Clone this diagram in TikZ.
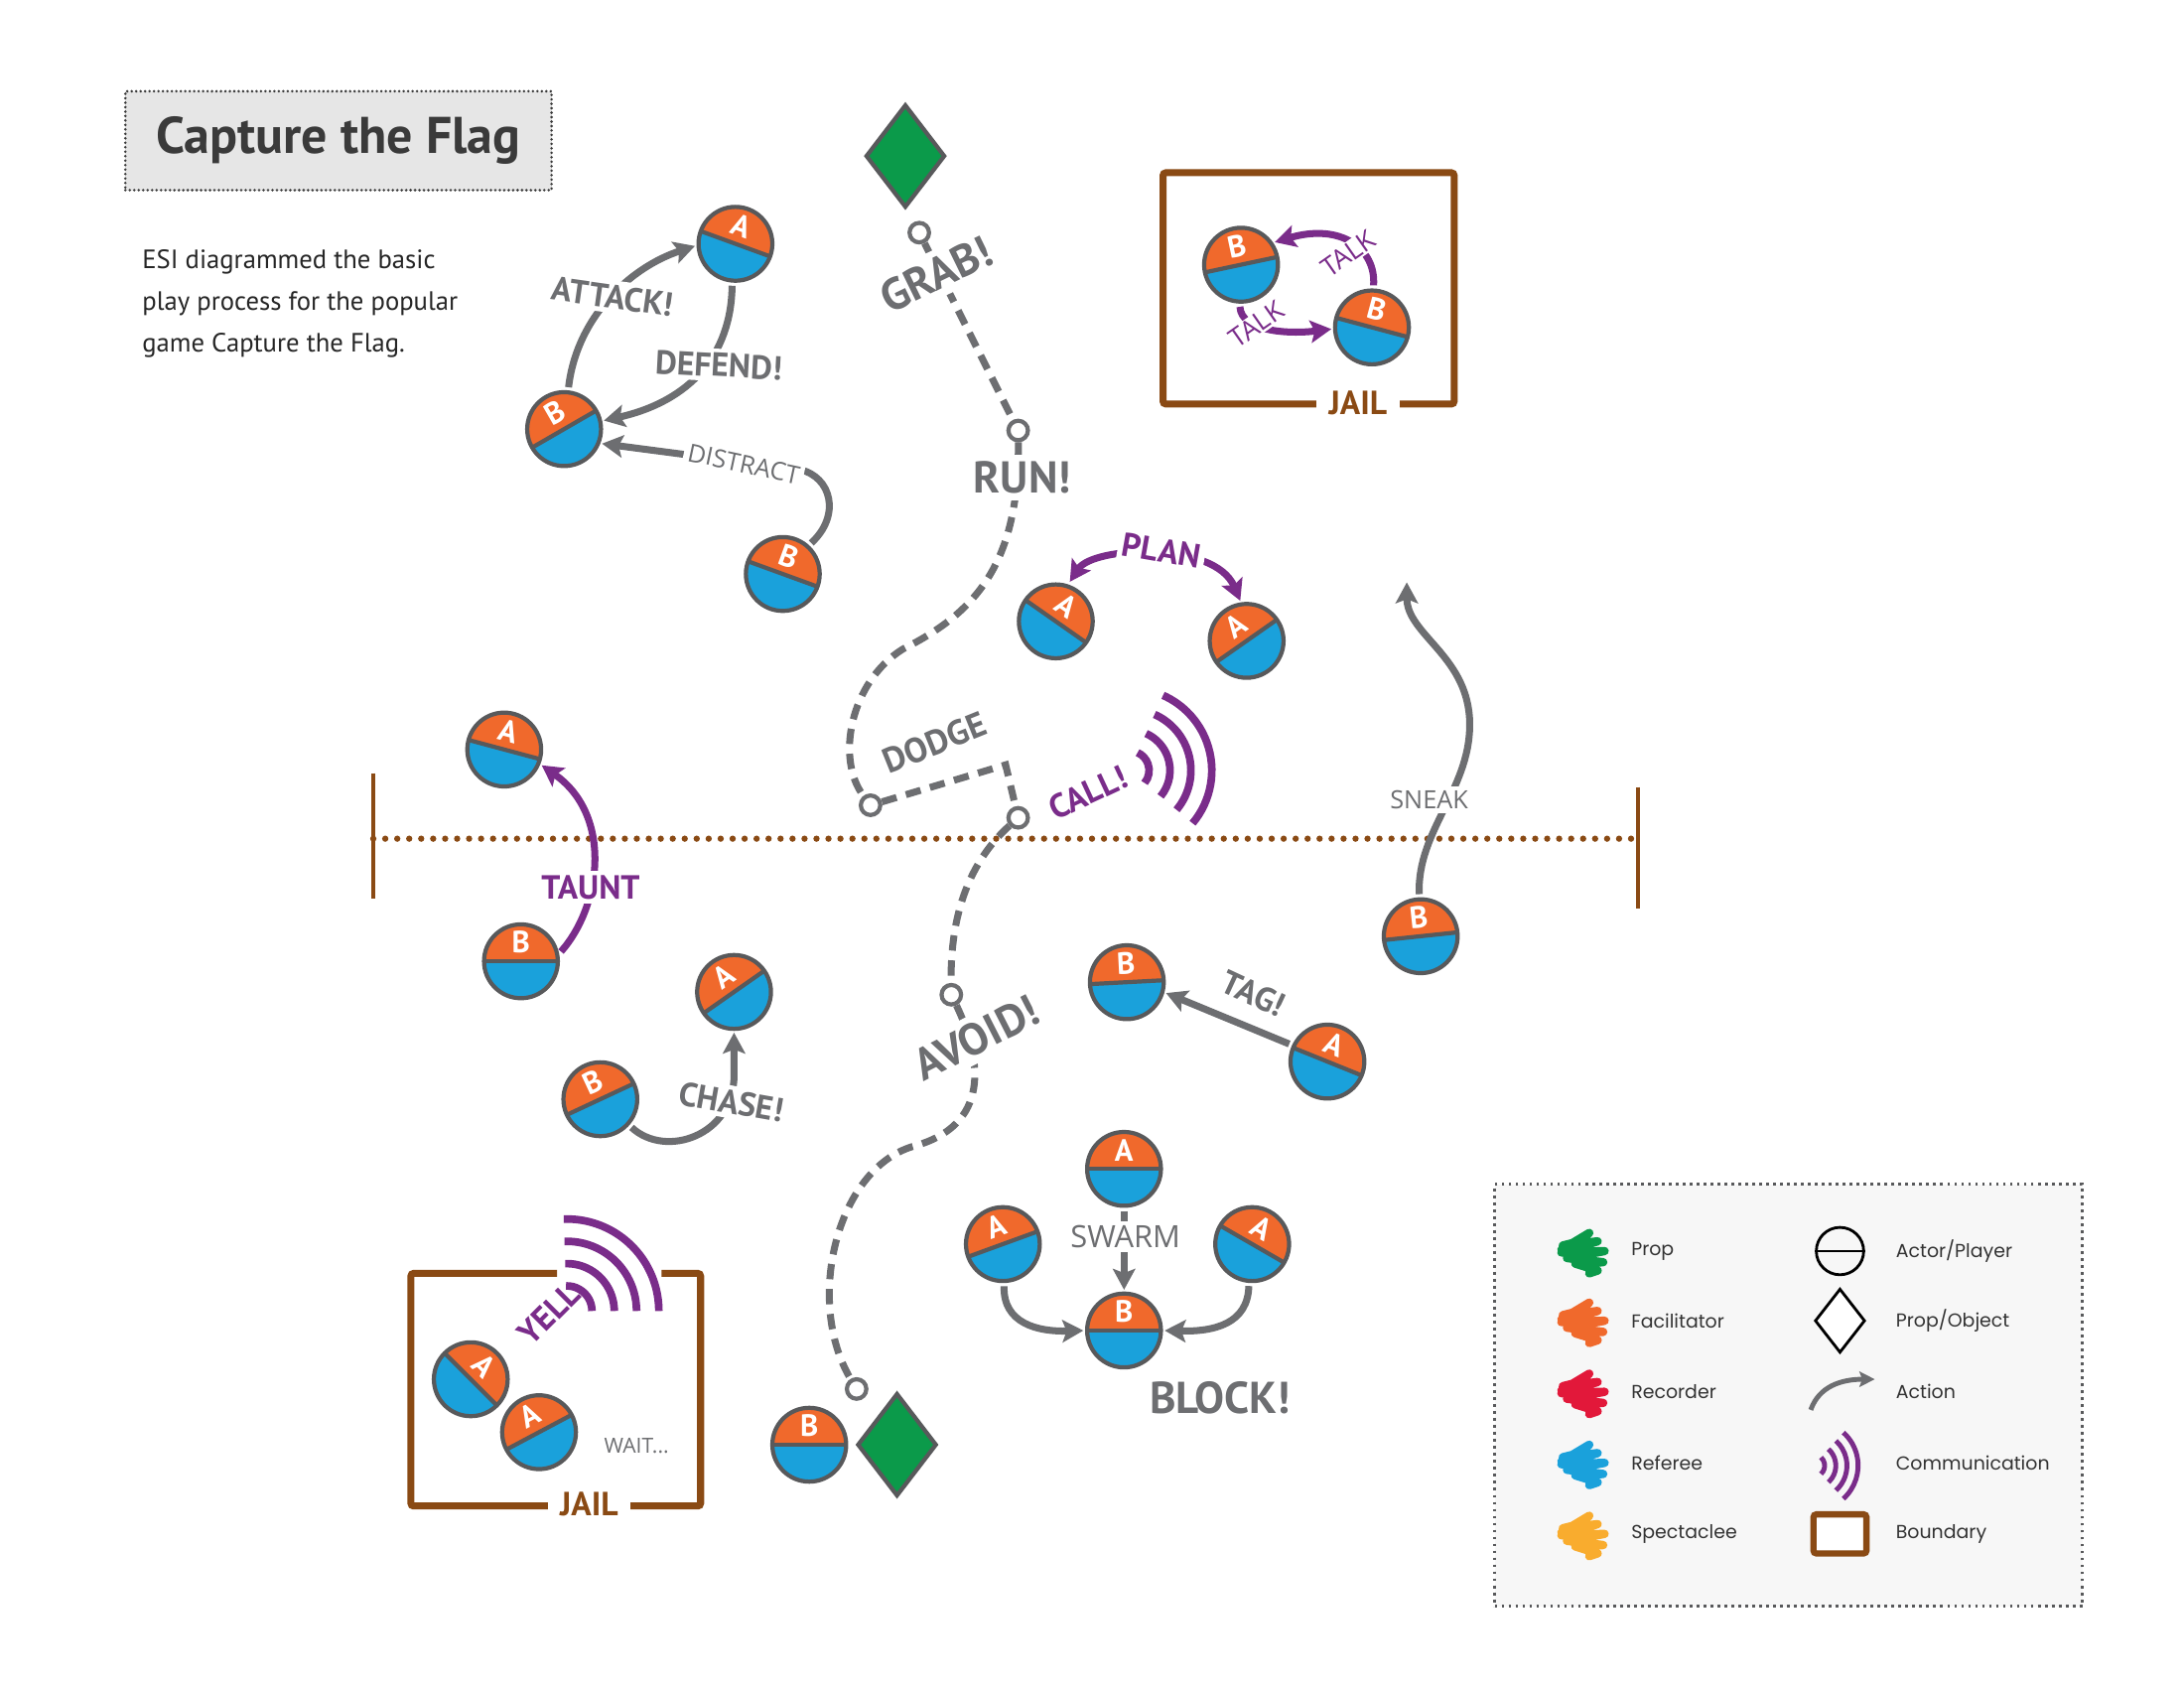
\documentclass[tikz,border=0pt]{standalone}
\usepackage{fontspec}
\setmainfont{PT Sans}
\newfontfamily\thinfont{Open Sans}
\newfontfamily\legendfont{Poppins}
\usetikzlibrary{arrows.meta, shapes.geometric, positioning, calc}

\definecolor{actorange}{HTML}{F0692C}
\definecolor{actblue}{HTML}{1AA1DB}
\definecolor{linegray}{HTML}{58595B}
\definecolor{labelgray}{HTML}{6D6E71}
\definecolor{commpurple}{HTML}{7A2C8A}
\definecolor{boundbrown}{HTML}{8A4A14}
\definecolor{propgreen}{HTML}{0B9A4A}
\definecolor{recred}{HTML}{E2183A}
\definecolor{specyellow}{HTML}{F9AC2E}
\definecolor{titlegray}{HTML}{3A3A3A}
\definecolor{titlefill}{HTML}{E6E6E6}
\definecolor{legendfill}{HTML}{F7F7F7}

\tikzstyle{titlebox} = [draw=titlegray, line width=2pt, line cap=round, dash pattern=on 0pt off 3.2pt,
                        fill=titlefill, minimum width=306pt, minimum height=71pt,
                        font=\bfseries\fontsize{37}{40}\selectfont, text=titlegray]
\tikzstyle{intro} = [anchor=north west, align=left, inner sep=0pt, text=black!85,
                     font=\fontsize{19}{30}\selectfont]
\tikzstyle{halfway} = [draw=boundbrown, line width=4.5pt, line cap=round, dash pattern=on 0pt off 8.6pt]
\tikzstyle{fence} = [draw=boundbrown, line width=2.5pt]
\tikzstyle{boundary} = [draw=boundbrown, line width=5pt, rounded corners=2pt]
\tikzstyle{action} = [draw=labelgray, line width=5pt, shorten <=3pt, shorten >=2pt,
                      -{Stealth[length=15pt, width=16pt, inset=3pt]}]
\tikzstyle{talk} = [draw=commpurple, line width=5pt, shorten <=3pt, shorten >=2pt,
                    -{Stealth[length=15pt, width=16pt, inset=3pt]}]
\tikzstyle{talkboth} = [talk, {Stealth[length=15pt, width=16pt, inset=3pt]}-{Stealth[length=15pt, width=16pt, inset=3pt]}]
\tikzstyle{route} = [draw=labelgray, line width=5pt, dash pattern=on 11pt off 7pt]
\tikzstyle{wave} = [draw=commpurple, line width=5.5pt]
\tikzstyle{waypoint} = [circle, draw=labelgray, line width=3pt, fill=white, minimum size=14pt, inner sep=0pt]
\tikzstyle{flag} = [diamond, draw=linegray, line width=3pt, fill=propgreen, minimum width=57pt,
                    minimum height=74pt, inner sep=0pt]
\tikzstyle{player} = [circle, inner sep=0pt, minimum size=54pt, fill=actblue]
\tikzstyle{split} = [draw=linegray, line width=3pt]
\tikzstyle{ring} = [draw=linegray, line width=3pt]
\tikzstyle{teamletter} = [text=white, inner sep=0pt, font=\bfseries\fontsize{22}{22}\selectfont]
\tikzstyle{shout} = [text=labelgray, fill=white, inner sep=3pt, font=\bfseries\fontsize{24}{24}\selectfont]
\tikzstyle{bigshout} = [shout, inner sep=5pt, font=\bfseries\fontsize{32}{32}\selectfont]
\tikzstyle{dodgetext} = [shout, fill=none, font=\bfseries\fontsize{25}{25}\selectfont]
\tikzstyle{whisper} = [text=labelgray, fill=white, inner sep=3pt, font=\thinfont\fontsize{18}{18}\selectfont]
\tikzstyle{commtext} = [text=commpurple, fill=white, inner sep=3pt, font=\bfseries\fontsize{24}{24}\selectfont]
\tikzstyle{talktext} = [text=commpurple, fill=white, inner sep=1pt, font=\thinfont\fontsize{19}{19}\selectfont]
\tikzstyle{jailtext} = [text=boundbrown, fill=white, inner xsep=9pt, inner ysep=2pt,
                        font=\bfseries\fontsize{24}{24}\selectfont]
\tikzstyle{legendbox} = [draw=linegray, line width=2pt, dash pattern=on 2pt off 3pt, fill=legendfill,
                         minimum width=422pt, minimum height=303pt]
\tikzstyle{legendtext} = [anchor=west, text=black!80, inner sep=0pt, font=\legendfont\fontsize{13.5}{16}\selectfont]
\tikzstyle{scribble} = [line width=6pt, line join=round, line cap=round]

% name, position, letter, tilt of the split
\newcommand{\player}[4]{%
  \node (#1) [player] at (#2) {};
  \begin{scope}[shift={(#1.center)}, rotate=#4]
    \clip (0,0) circle (26);
    \fill [actorange] (-30,0) rectangle (30,30);
    \draw [split] (-30,0) -- (30,0);
  \end{scope}
  \draw [ring] (#1.center) circle (26.5);
  \node (#1L) [teamletter, rotate=#4] at ($(#1)+(#4+90:13.5)$) {#3};
}

\begin{document}
\begin{tikzpicture}[x=1pt, y=1pt]
  \useasboundingbox (0,0) rectangle (1568,-1212);
  \fill [white] (0,0) rectangle (1568,-1212);

  % title and intro
  \node (Title) [titlebox] at (243,-101) {Capture the Flag};
  \node (Intro) [intro] at (102,-179) {ESI diagrammed the basic\\play process for the popular\\game Capture the Flag.};

  % half-way line
  \coordinate (HalfW) at (268,-602);
  \coordinate (HalfE) at (1176,-602);
  \draw [halfway] (HalfW) -- (HalfE);
  \draw [fence] ($(HalfW)+(0,47)$) -- ($(HalfW)+(0,-43)$);
  \draw [fence] ($(HalfE)+(0,37)$) -- ($(HalfE)+(0,-50)$);

  % jails
  \draw [boundary] (835,-124) rectangle (1044,-290);
  \draw [boundary] (400,-914) -- (295,-914) -- (295,-1081) -- (503,-1081) -- (503,-914) -- (475,-914);

  % flags and waypoints
  \node (FlagTop) [flag] at (650,-112) {};
  \node (FlagBottom) [flag] at (644,-1037) {};
  \node (WayGrab) [waypoint] at (660,-167) {};
  \node (WayRun) [waypoint] at (731,-309) {};
  \node (WayDodge) [waypoint] at (625,-578) {};
  \node (WayCall) [waypoint] at (731,-587) {};
  \node (WayAvoid) [waypoint] at (683,-714) {};
  \node (WayFlag) [waypoint] at (615,-997) {};

  % players
  \player{AttackA}{528,-175}{A}{-20}
  \player{AttackB}{405,-308}{B}{30}
  \player{DistractB}{562,-412}{B}{-20}
  \player{PlanLeft}{758,-446}{A}{-35}
  \player{PlanRight}{895,-460}{A}{35}
  \player{JailB1}{891,-190}{B}{12}
  \player{JailB2}{985,-235}{B}{-15}
  \player{TauntA}{362,-538}{A}{-15}
  \player{TauntB}{374,-690}{B}{0}
  \player{ChaseA}{527,-712}{A}{35}
  \player{ChaseB}{431,-789}{B}{25}
  \player{TagB}{809,-705}{B}{3}
  \player{TagA}{953,-762}{A}{-22}
  \player{SneakB}{1020,-672}{B}{6}
  \player{SwarmTop}{807,-839}{A}{0}
  \player{SwarmLeft}{720,-893}{A}{20}
  \player{SwarmRight}{899,-893}{A}{-30}
  \player{BlockB}{807,-955}{B}{0}
  \player{JailA1}{338,-990}{A}{-45}
  \player{JailA2}{387,-1028}{A}{28}
  \player{FlagB}{581,-1037}{B}{0}

  % the run for the flag
  \coordinate (RunBend) at (648,-466);
  \coordinate (DodgeCorner) at (722,-549);
  \coordinate (AvoidBend) at (655,-823);
  \draw [route] (WayGrab) -- (WayRun);
  \draw [route] (WayRun) .. controls (732,-405) and (700,-440) .. (RunBend)
                        .. controls (610,-490) and (600,-545) .. (WayDodge);
  \draw [route] (WayDodge) -- (DodgeCorner) -- (WayCall);
  \draw [route] (WayCall) .. controls (700,-615) and (682,-650) .. (WayAvoid);
  \draw [route] (WayAvoid) .. controls (705,-760) and (712,-808) .. (AvoidBend)
                          .. controls (600,-840) and (578,-935) .. (WayFlag);

  % actions
  \coordinate (DistractBend) at (574,-337);
  \coordinate (ChaseBend) at (527,-772);
  \coordinate (SneakEnd) at (1010,-416);
  \draw [action] (AttackB.84) .. controls (414,-228) and (452,-192) .. (AttackA.182);
  \draw [action] (AttackA.-95) .. controls (525,-255) and (495,-288) .. (AttackB.12);
  \draw [action] (DistractB.48) .. controls (604,-370) and (597,-342) .. (DistractBend) -- (AttackB.-22);
  \draw [action] (ChaseB.-42) .. controls (478,-832) and (527,-815) .. (ChaseBend) -- (ChaseA.-90);
  \draw [action] (TagA.155) -- (TagB.-15);
  \draw [action] (SneakB.92) .. controls (1017,-595) and (1058,-565) .. (1055,-515)
                             .. controls (1052,-470) and (1010,-455) .. (SneakEnd);
  \draw [action] (SwarmTop) -- (BlockB);
  \draw [action] (SwarmLeft.-88) .. controls (720,-950) and (745,-956) .. (BlockB.180);
  \draw [action] (SwarmRight.-95) .. controls (896,-950) and (872,-956) .. (BlockB.0);

  % communication
  \draw [talkboth] (PlanLeft.72) .. controls (785,-392) and (872,-388) .. (PlanRight.98);
  \draw [talk] (JailB2.88) .. controls (988,-178) and (962,-160) .. (JailB1.35);
  \draw [talk] (JailB1.-92) .. controls (891,-238) and (925,-240) .. (JailB2.182);
  \draw [talk] (TauntB.10) .. controls (432,-650) and (440,-585) .. (TauntA.-22);

  \coordinate (CallWaves) at (811,-553);
  \foreach \r in {14,29,44,59}
    \draw [wave] ($(CallWaves)+(-40:\r)$) arc [start angle=-40, end angle=66, radius=\r];
  \coordinate (YellWaves) at (407,-941);
  \foreach \r in {18,34,50,66}
    \draw [wave] ($(YellWaves)+(0:\r)$) arc [start angle=0, end angle=92, radius=\r];

  % labels
  \node (GrabText) [bigshout, rotate=26] at (672,-197) {GRAB!};
  \node (RunText) [bigshout] at (734,-343) {RUN!};
  \node (DodgeText) [dodgetext, rotate=22] at (671,-533) {DODGE};
  \node (AvoidText) [bigshout, rotate=27] at (701,-745) {AVOID!};
  \node (CallText) [commtext, rotate=25] at (781,-569) {CALL!};
  \node (AttackText) [shout, rotate=-8] at (440,-213) {ATTACK!};
  \node (DefendText) [shout, rotate=-3] at (516,-262) {DEFEND!};
  \node (DistractText) [whisper, rotate=-12] at (534,-333) {DISTRACT};
  \node (PlanText) [commtext, rotate=-10] at (834,-395) {PLAN};
  \node (TalkUpper) [talktext, rotate=35] at (968,-182) {TALK};
  \node (TalkLower) [talktext, rotate=35] at (902,-233) {TALK};
  \node (JailTopText) [jailtext] at (975,-289) {JAIL};
  \node (TauntText) [commtext] at (424,-637) {TAUNT};
  \node (ChaseText) [shout, rotate=-10] at (525,-791) {CHASE!};
  \node (TagText) [shout, fill=none, rotate=-25] at (900,-713) {TAG!};
  \node (SneakText) [whisper] at (1026,-574) {SNEAK};
  \node (SwarmText) [whisper, font=\thinfont\fontsize{22}{22}\selectfont] at (808,-888) {SWARM};
  \node (BlockText) [bigshout] at (876,-1003) {BLOCK!};
  \node (YellText) [commtext, fill=none, rotate=45] at (394,-943) {YELL};
  \node (WaitText) [whisper, font=\thinfont\fontsize{15}{15}\selectfont] at (457,-1038) {WAIT...};
  \node (JailBottomText) [jailtext] at (423,-1080) {JAIL};

  % legend
  \node (Legend) [legendbox] at (1284,-1001.5) {};
  \foreach \col/\y/\txt in {propgreen/898/Prop, actorange/948/Facilitator, recred/999/Recorder,
                            actblue/1050/Referee, specyellow/1101/Spectaclee} {
    \draw [scribble, draw=\col, shift={(1137,-\y)}] (-16,1) -- (4,13) -- (-3,7) -- (-15,4) -- (10,7)
          -- (-16,-1) -- (15,0) -- (-12,-5) -- (14,-8) -- (-6,-9) -- (10,-14) -- (4,-16);
    \node (Text\txt) [legendtext] at (1171,-\y) {\txt};
  }
  \node (IconActor) [circle, draw=black, line width=2pt, minimum size=34pt, inner sep=0pt] at (1321,-898) {};
  \draw [line width=2pt] (IconActor.west) -- (IconActor.east);
  \node (IconObject) [diamond, draw=black, line width=2pt, fill=white, minimum width=36pt,
                      minimum height=46pt, inner sep=0pt] at (1321,-948) {};
  \coordinate (IconActionS) at (1300,-1012);
  \coordinate (IconActionE) at (1346,-990);
  \draw [action, line width=3.5pt, shorten <=0pt, shorten >=0pt, -{Stealth[length=11pt, width=11pt, inset=2pt]}]
        (IconActionS) .. controls (1306,-995) and (1322,-990) .. (IconActionE);
  \coordinate (IconWaves) at (1302,-1052);
  \foreach \r in {8,16,24,32}
    \draw [wave, line width=3.5pt] ($(IconWaves)+(-48:\r)$) arc [start angle=-48, end angle=48, radius=\r];
  \node (IconBoundary) [draw=boundbrown, line width=4.5pt, fill=white, rounded corners=2pt,
                        minimum width=38pt, minimum height=28pt] at (1321,-1101) {};
  \node (TextActor) [legendtext] at (1361,-898) {Actor/Player};
  \node (TextObject) [legendtext] at (1361,-948) {Prop/Object};
  \node (TextAction) [legendtext] at (1361,-999) {Action};
  \node (TextComm) [legendtext] at (1361,-1050) {Communication};
  \node (TextBoundary) [legendtext] at (1361,-1101) {Boundary};
\end{tikzpicture}
\end{document}
